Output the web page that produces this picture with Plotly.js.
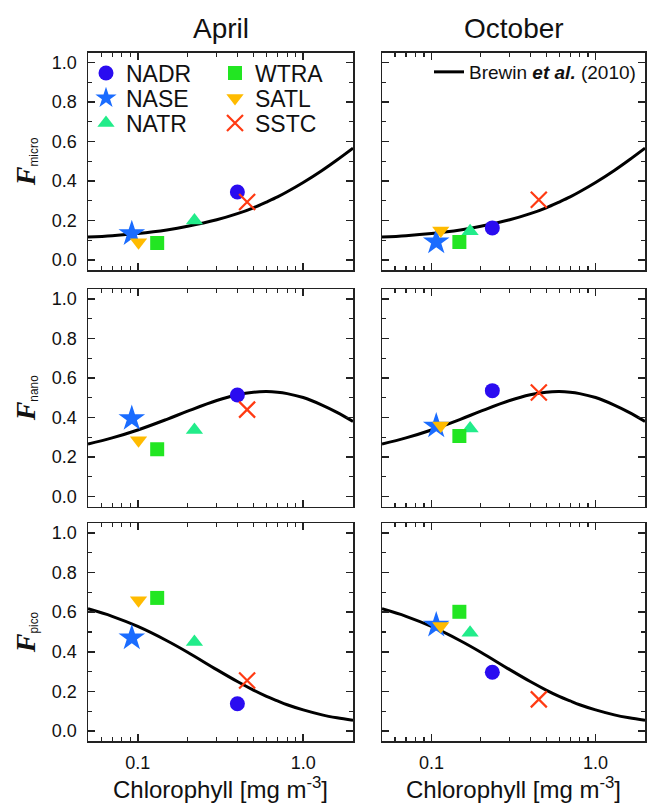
<!DOCTYPE html>
<html>
<head>
<meta charset="utf-8">
<script src="https://cdn.plot.ly/plotly-3.0.1.min.js"></script>
<style>html,body{margin:0;padding:0;background:#fff;}#chart{width:649px;height:803px;}</style>
</head>
<body>
<div id="chart"></div>
<script>
// ---- data ----
const provinces = ['NADR', 'NASE', 'NATR', 'WTRA', 'SATL', 'SSTC'];
const chlApril   = [0.40, 0.092, 0.22, 0.131, 0.101, 0.458];
const chlOctober = [0.235, 0.107, 0.172, 0.148, 0.114, 0.451];
const microApril = [0.345, 0.134, 0.20, 0.087, 0.09, 0.294];
const nanoApril  = [0.514, 0.395, 0.337, 0.24, 0.285, 0.44];
const picoApril  = [0.138, 0.47, 0.45, 0.672, 0.66, 0.255];
const microOctober = [0.163, 0.092, 0.146, 0.092, 0.15, 0.306];
const nanoOctober  = [0.536, 0.357, 0.345, 0.307, 0.36, 0.527];
const picoOctober  = [0.297, 0.535, 0.496, 0.602, 0.53, 0.16];
// Brewin et al. (2010) curve
const curveChl   = [0.05, 0.07, 0.1, 0.15, 0.2, 0.3, 0.4, 0.5, 0.6, 0.7, 0.8, 1.0, 1.3, 1.6, 2.0];
const curveMicro = [0.117, 0.124, 0.135, 0.153, 0.171, 0.204, 0.235, 0.265, 0.294, 0.320, 0.346, 0.393, 0.454, 0.507, 0.567];
const curveNano  = [0.266, 0.297, 0.337, 0.391, 0.432, 0.486, 0.515, 0.528, 0.531, 0.528, 0.521, 0.501, 0.463, 0.426, 0.380];
const curvePico  = [0.617, 0.579, 0.528, 0.456, 0.398, 0.310, 0.250, 0.207, 0.175, 0.152, 0.133, 0.107, 0.082, 0.067, 0.054];
const yTickVals = [0, 0.2, 0.4, 0.6, 0.8, 1.0];
const xTickVals = [0.1, 1];
const xTickText = ['0.1', '1.0'];
const xMinorVals = [0.05, 0.06, 0.07, 0.08, 0.09, 0.2, 0.3, 0.4, 0.5, 0.6, 0.7, 0.8, 0.9, 2];
const columnTitles = ['April', 'October'];
const rowNames = ['micro', 'nano', 'pico'];
const legendName = 'Brewin <b><i>et al.</i></b> (2010)';

// ---- styles ----
const styles = {
  NADR: {symbol: 'circle', size: 15, color: '#2a0cf0'},
  NASE: {symbol: 'star', size: 20, color: '#1a6cff'},
  NATR: {symbol: 'triangle-up', size: 15, color: '#22ec8a'},
  WTRA: {symbol: 'square', size: 14, color: '#22e622'},
  SATL: {symbol: 'triangle-down', size: 15, color: '#ffbb00'},
  SSTC: {symbol: 'x-thin', size: 16, color: '#ff3a12'}
};
// one legend box per entry: [legend id, marker centre x px, row centre y px]
const legendSlots = {
  NADR: ['legend', 105, 73], NASE: ['legend2', 105, 98], NATR: ['legend3', 105, 123],
  WTRA: ['legend4', 234, 73], SATL: ['legend5', 234, 98], SSTC: ['legend6', 234, 123]
};

const rows = [
  {curve: curveMicro, apr: microApril, oct: microOctober},
  {curve: curveNano, apr: nanoApril, oct: nanoOctober},
  {curve: curvePico, apr: picoApril, oct: picoOctober}
];

const W = 649, H = 803;
const colPx = [[88, 353], [382, 645]];
const rowPx = [[52.7, 270], [289, 506.5], [523, 741]];

const traces = [];
const layout = {
  width: W, height: H,
  margin: {l: 0, r: 0, t: 0, b: 0},
  paper_bgcolor: '#fff', plot_bgcolor: '#fff',
  font: {family: 'Liberation Sans, Arial, sans-serif', size: 18, color: '#111'},
  showlegend: true,
  annotations: []
};

let idx = 0;
rows.forEach((r, ri) => {
  [0, 1].forEach(ci => {
    idx++;
    const xa = idx === 1 ? 'x' : 'x' + idx;
    const ya = idx === 1 ? 'y' : 'y' + idx;
    const xKey = idx === 1 ? 'xaxis' : 'xaxis' + idx;
    const yKey = idx === 1 ? 'yaxis' : 'yaxis' + idx;
    const chl = ci === 0 ? chlApril : chlOctober;
    const vals = ci === 0 ? r.apr : r.oct;

    traces.push({
      x: curveChl, y: r.curve, xaxis: xa, yaxis: ya,
      type: 'scatter', mode: 'lines', name: legendName,
      line: {color: '#000', width: 3, shape: 'spline', smoothing: 1},
      showlegend: (ri === 0 && ci === 1), legend: 'legend7', hoverinfo: 'skip'
    });
    provinces.forEach((p, pi) => {
      const s = styles[p];
      const marker = {symbol: s.symbol, size: s.size, color: s.color};
      if (s.symbol === 'x-thin') marker.line = {color: s.color, width: 2.2};
      else marker.line = {width: 0};
      traces.push({
        x: [chl[pi]], y: [vals[pi]], xaxis: xa, yaxis: ya,
        type: 'scatter', mode: 'markers', name: p, marker: marker,
        showlegend: (ri === 0 && ci === 0), legend: legendSlots[p][0]
      });
    });

    layout[xKey] = {
      domain: [colPx[ci][0] / W, colPx[ci][1] / W],
      anchor: ya, type: 'log',
      range: [Math.log10(0.05), Math.log10(2)],
      tickmode: 'array', tickvals: xTickVals, ticktext: xTickText,
      ticks: 'inside', ticklen: 7, tickwidth: 1.5, tickcolor: '#222',
      minor: {tickmode: 'array', tickvals: xMinorVals, ticks: 'inside', ticklen: 4, tickwidth: 1.2, tickcolor: '#222'},
      showline: true, linecolor: '#222', linewidth: 1.5, mirror: 'ticks',
      showgrid: false, zeroline: false,
      showticklabels: ri === 2, ticklabelstandoff: 5,
      tickfont: {size: 18, color: '#111'}
    };
    if (ri === 2) {
      layout[xKey].title = {text: 'Chlorophyll [mg m<sup>-3</sup>]', font: {size: 24, color: '#111'}, standoff: 6};
    }
    layout[yKey] = {
      domain: [1 - rowPx[ri][1] / H, 1 - rowPx[ri][0] / H],
      anchor: xa, range: [-0.05, 1.05],
      tickmode: 'array', tickvals: yTickVals, tickformat: '.1f',
      ticks: 'inside', ticklen: 7, tickwidth: 1.5, tickcolor: '#222',
      minor: {dtick: 0.1, tick0: 0, ticks: 'inside', ticklen: 4, tickwidth: 1.2, tickcolor: '#222'},
      showline: true, linecolor: '#222', linewidth: 1.5, mirror: 'ticks',
      showgrid: false, zeroline: false,
      showticklabels: ci === 0, ticklabelstandoff: 6,
      tickfont: {size: 18, color: '#111'}
    };
    if (ci === 0) {
      layout[yKey].title = {
        text: '<span style="font-family:Liberation Serif;font-size:28px"><b><i>F</i></b></span><sub>' + rowNames[ri] + '</sub>',
        font: {size: 17, color: '#111'}, standoff: 12
      };
    }
  });
});

columnTitles.forEach((t, ci) => {
  layout.annotations.push({
    text: t, xref: 'paper', yref: 'paper',
    x: (colPx[ci][0] + colPx[ci][1]) / 2 / W, y: 1 - 28 / H,
    xanchor: 'center', yanchor: 'middle', showarrow: false,
    font: {size: 28, color: '#111'}
  });
});

const legendCommon = {
  bgcolor: 'rgba(0,0,0,0)', borderwidth: 0, orientation: 'v',
  itemsizing: 'trace', font: {size: 23, color: '#111'},
  xanchor: 'left', yanchor: 'middle', tracegroupgap: 0
};
Object.keys(legendSlots).forEach(p => {
  const [id, cx, cy] = legendSlots[p];
  layout[id] = Object.assign({}, legendCommon, {x: (cx - 19) / W, y: 1 - cy / H});
});
layout.legend7 = Object.assign({}, legendCommon, {x: 429 / W, y: 1 - 72 / H, font: {size: 19, color: '#111'}});

Plotly.newPlot('chart', traces, layout, {staticPlot: true});
</script>
</body>
</html>
